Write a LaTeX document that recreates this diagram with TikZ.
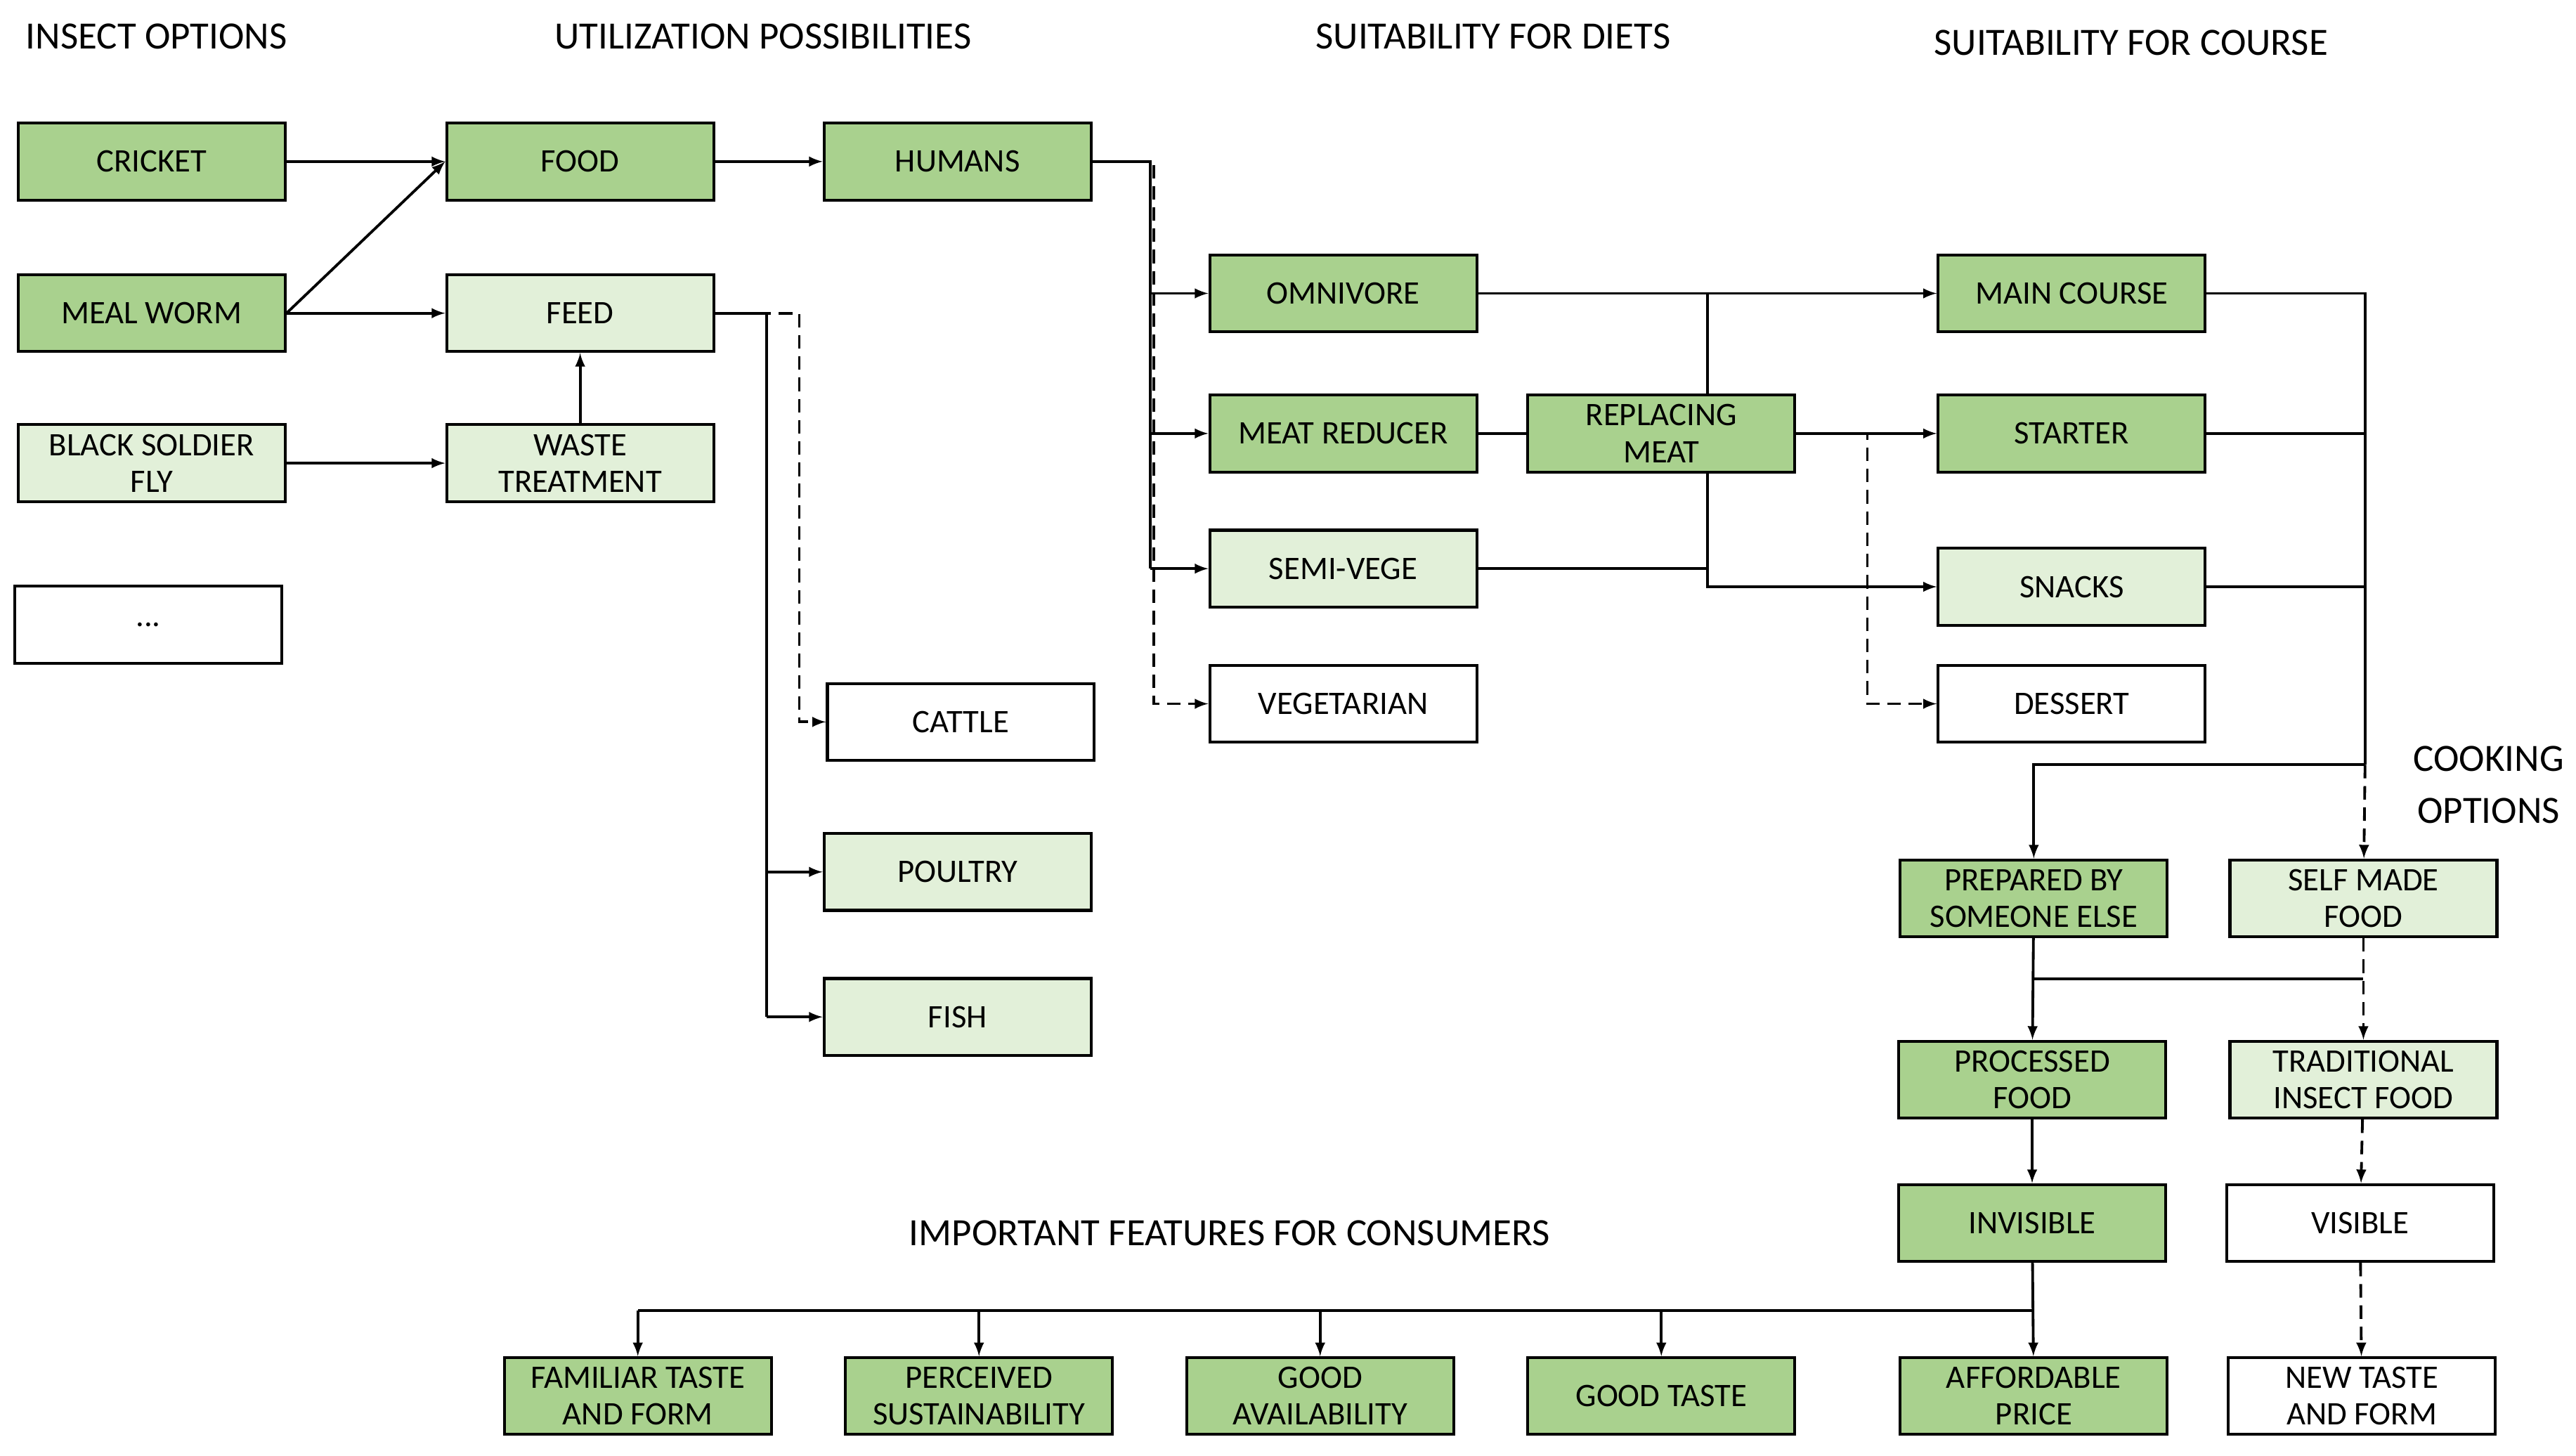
\documentclass[tikz,border=0pt]{standalone}
\usepackage{fontspec}
\setmainfont{Carlito}
\usetikzlibrary{positioning}
\definecolor{dgreen}{HTML}{A9D18E}
\definecolor{lgreen}{HTML}{E2F0D9}
\begin{document}
\begin{tikzpicture}[x=0.03cm, y=-0.03cm]
		% Styles
		\tikzset{box/.style={draw, line width=1.5pt, minimum width=4.86cm,
								minimum height=1.4cm, align=center,
								font=\fontsize{17}{19}\selectfont, inner sep=1pt},
				dark/.style={box, fill=dgreen},
				light/.style={box, fill=lgreen},
				plain/.style={box, fill=white},
				head/.style={font=\fontsize{20}{25}\selectfont, align=center},
				line/.style={line width=1.4pt},
				arr/.style={line, -latex},
				dline/.style={line, dash pattern=on 7pt off 4pt}}
		\useasboundingbox (0,0) rectangle (1563,883);

		% Headings
		\node[head] at (95,22)   (hI) {INSECT OPTIONS};
		\node[head] at (463,22)  (hU) {UTILIZATION POSSIBILITIES};
		\node[head] at (906,22)  (hD) {SUITABILITY FOR DIETS};
		\node[head] at (1293,26) (hC) {SUITABILITY FOR COURSE};
		\node[head] at (1510,476)(hO) {COOKING\\[2pt]OPTIONS};
		\node[head] at (746,748) (hF) {IMPORTANT FEATURES FOR CONSUMERS};

		% Draw nodes
		\node[dark]  at (92,98)   (CR) {CRICKET};
		\node[dark]  at (92,190)  (MW) {MEAL WORM};
		\node[light] at (92,281)  (BS) {BLACK SOLDIER\\FLY};
		\node[plain] at (90,379)  (DT) {...};
		\node[dark]  at (352,98)  (FO) {FOOD};
		\node[light] at (352,190) (FE) {FEED};
		\node[light] at (352,281) (WT) {WASTE\\TREATMENT};
		\node[dark]  at (581,98)  (HU) {HUMANS};
		\node[plain] at (583,438) (CA) {CATTLE};
		\node[light] at (581,529) (PO) {POULTRY};
		\node[light] at (581,617) (FI) {FISH};
		\node[dark]  at (815,178) (OM) {OMNIVORE};
		\node[dark]  at (815,263) (MR) {MEAT REDUCER};
		\node[light] at (815,345) (SV) {SEMI-VEGE};
		\node[plain] at (815,427) (VE) {VEGETARIAN};
		\node[dark]  at (1008,263)(RM) {REPLACING\\MEAT};
		\node[dark]  at (1257,178)(MC) {MAIN COURSE};
		\node[dark]  at (1257,263)(ST) {STARTER};
		\node[light] at (1257,356)(SN) {SNACKS};
		\node[plain] at (1257,427)(DE) {DESSERT};
		\node[dark]  at (1234,545)(PB) {PREPARED BY\\SOMEONE ELSE};
		\node[light] at (1434,545)(SM) {SELF MADE\\FOOD};
		\node[dark]  at (1233,655)(PF) {PROCESSED\\FOOD};
		\node[light] at (1434,655)(TI) {TRADITIONAL\\INSECT FOOD};
		\node[dark]  at (1233,742)(IN) {INVISIBLE};
		\node[plain] at (1432,742)(VI) {VISIBLE};
		\node[plain] at (1433,847)(NT) {NEW TASTE\\AND FORM};
		\node[dark]  at (387,847) (FT) {FAMILIAR TASTE\\AND FORM};
		\node[dark]  at (594,847) (PS) {PERCEIVED\\SUSTAINABILITY};
		\node[dark]  at (801,847) (GA) {GOOD\\AVAILABILITY};
		\node[dark]  at (1008,847)(GT) {GOOD TASTE};
		\node[dark]  at (1234,847)(AP) {AFFORDABLE\\PRICE};

		% Draw connectors
		\draw[arr] (CR) -- (FO);
		\draw[arr] (MW.east) -- (FO.west);
		\draw[arr] (MW) -- (FE);
		\draw[arr] (BS) -- (WT);
		\draw[arr] (WT) -- (FE);
		\draw[arr] (FO) -- (HU);
		\draw[line] (HU.east) -| (698,345);
		\draw[arr] (698,178) -- (OM);
		\draw[arr] (698,263) -- (MR);
		\draw[arr] (698,345) -- (SV);
		\draw[dline,-latex] (700,100) |- (VE);
		\draw[line] (FE.east) -| (465,617);
		\draw[arr] (465,529) -- (PO);
		\draw[arr] (465,617) -- (FI);
		\draw[dline,-latex] (FE.east) -| (485,438) -- (CA);
		\draw[arr] (OM) -- (MC);
		\draw[line] (MR) -- (RM);
		\draw[line] (1036,239) -- (1036,178);
		\draw[line] (SV.east) -| (1036,287);
		\draw[arr] (1036,287) |- (SN);
		\draw[arr] (RM) -- (ST);
		\draw[dline,-latex] (1090,263) -| (1133,427) -- (DE);
		\draw[line] (MC.east) -| (1435,464);
		\draw[line] (ST) -- (1435,263);
		\draw[line] (SN) -- (1435,356);
		\draw[arr] (1435,464) -| (PB);
		\draw[dline,-latex] (1435,464) -- (SM);
		\draw[arr] (PB) -- (PF);
		\draw[line] (1234,594) -- (1434,594);
		\draw[dline,-latex] (SM) -- (TI);
		\draw[dline,-latex] (TI) -- (VI);
		\draw[dline,-latex] (VI) -- (NT);
		\draw[arr] (PF) -- (IN);
		\draw[arr] (IN) -- (AP);
		\draw[line] (1233,795) -- (387,795);
		\foreach \n/\x in {FT/387, PS/594, GA/801, GT/1008}
			\draw[arr] (\x,795) -- (\n);
\end{tikzpicture}
\end{document}
